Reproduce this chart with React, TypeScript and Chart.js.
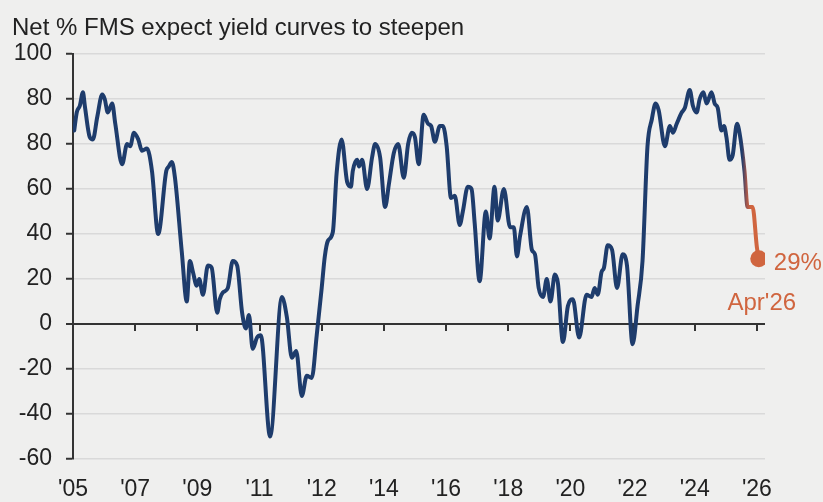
import React, { useEffect, useRef } from "react";
import { Chart, registerables } from "chart.js";

Chart.register(...registerables);

const titleText = "Net % FMS expect yield curves to steepen";
const xTickLabels = ["'05", "'07", "'09", "'11", "'12", "'14", "'16", "'18", "'20", "'22", "'24", "'26"];
const yTickLabels = ["-60", "-40", "-20", "0", "20", "40", "60", "80", "80", "100"];
const lastLabel = "Apr'26";

// position along the x axis, in tick-label units ('05 = 0 ... '26 = 11)
const xPos = [
  0.02, 0.06, 0.11, 0.16, 0.19, 0.27, 0.32, 0.39, 0.47, 0.51, 0.56, 0.63, 0.68, 0.79, 0.87, 0.92, 0.98,
  1.05, 1.11, 1.19, 1.27, 1.37, 1.5, 1.54, 1.59, 1.64, 1.75, 1.83, 1.88, 1.93, 1.99,
  2.03, 2.09, 2.17, 2.23, 2.32, 2.36, 2.41, 2.49, 2.57, 2.64, 2.72, 2.78, 2.83, 2.89, 2.96,
  3.02, 3.17, 3.36, 3.44, 3.52, 3.59, 3.68, 3.76, 3.84, 3.92,
  4.0, 4.05, 4.1, 4.18, 4.24, 4.32, 4.41, 4.47, 4.5, 4.57, 4.6, 4.65, 4.73, 4.81, 4.86, 4.94,
  5.02, 5.08, 5.16, 5.23, 5.32, 5.39, 5.45, 5.5, 5.56, 5.64, 5.71, 5.76, 5.82, 5.9, 5.95,
  6.01, 6.08, 6.14, 6.22, 6.27, 6.35, 6.41, 6.46, 6.54, 6.64, 6.7, 6.78, 6.83, 6.93,
  7.03, 7.09, 7.14, 7.19, 7.3, 7.38, 7.43, 7.49, 7.56, 7.62, 7.68, 7.75, 7.8, 7.88, 7.96,
  8.04, 8.14, 8.26, 8.34, 8.39, 8.44, 8.5, 8.54, 8.6, 8.67, 8.75, 8.84, 8.91,
  9.0, 9.08, 9.16, 9.24, 9.31, 9.37, 9.42, 9.52, 9.6, 9.65, 9.71, 9.79, 9.84, 9.92, 9.97,
  10.03, 10.08, 10.14, 10.19, 10.27, 10.32, 10.37, 10.43, 10.47, 10.51, 10.56, 10.61, 10.68, 10.72,
  10.8, 10.85, 10.93, 11.0, 11.03,
];

const netPct = [
  86, 94, 97, 103, 97, 83, 82, 92, 102, 100, 94, 98, 89, 71, 80, 79, 85,
  82, 77, 78, 68, 40, 68, 70, 72, 65, 32, 10, 28, 23, 17,
  20, 13, 26, 25, 5, 11, 14, 16, 28, 26, 5, -2, 4, -11, -6,
  -5, -50, 12, 3, -15, -12, -32, -23, -24, -5,
  16, 30, 37, 41, 67, 82, 63, 61, 68, 73, 70, 73, 60, 74, 80, 74,
  52, 62, 76, 80, 65, 80, 85, 83, 71, 93, 89, 88, 81, 88, 88,
  79, 56, 57, 44, 50, 61, 60, 45, 19, 50, 38, 61, 46, 60,
  43, 43, 30, 39, 52, 33, 31, 16, 12, 20, 10, 22, 18, -8, 8,
  11, -6, 13, 12, 16, 13, 23, 25, 35, 33, 16, 31, 26,
  -9, 8, 28, 79, 91, 98, 95, 79, 88, 85, 89, 94, 96, 104, 97,
  94, 100, 103, 98, 103, 98, 96, 86, 88, 83, 73, 75, 89, 85,
  68, 52, 52, 34, 29,
];

const NAVY = "#1e3c6c";
const ORANGE = "#d0653f";
const FONT = '"Liberation Sans", Arial, sans-serif';

export default function App() {
  const ref = useRef<HTMLCanvasElement | null>(null);

  useEffect(() => {
    const canvas = ref.current;
    if (!canvas) return;
    const last = netPct.length - 1;

    const decor = {
      id: "decor",
      beforeDatasetsDraw(chart: any) {
        const { ctx, scales } = chart;
        const y0 = scales.y.getPixelForValue(0);
        ctx.save();
        ctx.strokeStyle = "#333";
        ctx.lineWidth = 2;
        xTickLabels.forEach((_, i) => {
          if (i === 0) return;
          const x = Math.round(scales.x.getPixelForValue(i));
          ctx.beginPath();
          ctx.moveTo(x, y0);
          ctx.lineTo(x, y0 + 7);
          ctx.stroke();
        });
        ctx.restore();
      },
      afterDraw(chart: any) {
        const { ctx } = chart;
        ctx.save();
        ctx.fillStyle = "#222";
        ctx.font = `24px ${FONT}`;
        ctx.textAlign = "left";
        ctx.textBaseline = "alphabetic";
        ctx.fillText(titleText, 12, 35);
        const pt = chart.getDatasetMeta(0).data[last];
        if (pt) {
          ctx.fillStyle = ORANGE;
          ctx.font = `24px ${FONT}`;
          ctx.textBaseline = "middle";
          ctx.textAlign = "left";
          ctx.fillText(`${netPct[last]}%`, pt.x + 15, pt.y + 5);
          ctx.textAlign = "center";
          ctx.fillText(lastLabel, pt.x + 3, pt.y + 45);
        }
        ctx.restore();
      },
    };

    const chart = new Chart(canvas, {
      type: "line",
      data: {
        datasets: [
          {
            data: xPos.map((x, i) => ({ x, y: netPct[i] })),
            borderColor: (c: any) => {
              const { chart: ch } = c;
              const { chartArea, scales, ctx } = ch;
              if (!chartArea || !scales.x) return NAVY;
              const a = scales.x.getPixelForValue(10.76);
              const b = scales.x.getPixelForValue(10.9);
              const g = ctx.createLinearGradient(a, 0, b, 0);
              g.addColorStop(0, NAVY);
              g.addColorStop(0.55, "#a5574c");
              g.addColorStop(1, ORANGE);
              return g;
            },
            borderWidth: 4,
            borderJoinStyle: "round",
            borderCapStyle: "round",
            cubicInterpolationMode: "monotone",
            pointRadius: (c: any) => (c.dataIndex === last ? 8.5 : 0),
            pointHoverRadius: (c: any) => (c.dataIndex === last ? 8.5 : 0),
            pointBackgroundColor: ORANGE,
            pointBorderWidth: 0,
            fill: false,
          },
        ],
      },
      options: {
        responsive: false,
        animation: false,
        events: [],
        layout: { padding: { left: 12, right: 58, top: 54, bottom: 0 } },
        plugins: {
          legend: { display: false },
          title: { display: false },
          tooltip: { enabled: false },
        },
        scales: {
          x: {
            type: "linear",
            min: 0,
            max: 11.13,
            grid: { display: false, drawTicks: false },
            border: { display: false },
            afterBuildTicks: (s: any) => {
              s.ticks = xTickLabels.map((_, i) => ({ value: i }));
            },
            afterFit: (s: any) => {
              s.height = 43;
            },
            ticks: {
              autoSkip: false,
              maxRotation: 0,
              padding: 17,
              color: "#222",
              font: { family: FONT, size: 23 },
              callback: (v: any) => xTickLabels[Math.round(Number(v))] ?? "",
            },
          },
          y: {
            type: "linear",
            min: -60,
            max: 120,
            afterBuildTicks: (s: any) => {
              s.ticks = yTickLabels.map((_, i) => ({ value: -60 + i * 20 }));
            },
            afterFit: (s: any) => {
              s.width = 61;
            },
            grid: {
              color: (c: any) => (c.tick && c.tick.value === 0 ? "#333" : "#d9d9d9"),
              lineWidth: (c: any) => (c.tick && c.tick.value === 0 ? 2 : 1.5),
              drawTicks: true,
              tickLength: 7,
              tickColor: "#333",
              tickWidth: 2,
            },
            border: { display: true, color: "#333", width: 2 },
            ticks: {
              padding: 14,
              color: "#222",
              font: { family: FONT, size: 23 },
              callback: (_v: any, i: number) => yTickLabels[i],
            },
          },
        },
      },
      plugins: [decor],
    } as any);

    return () => chart.destroy();
  }, []);

  return (
    <div
      style={{
        position: "fixed",
        left: 0,
        top: 0,
        width: 823,
        height: 502,
        background: "#efefee",
      }}
    >
      <canvas ref={ref} width={823} height={502} style={{ display: "block" }} />
    </div>
  );
}
